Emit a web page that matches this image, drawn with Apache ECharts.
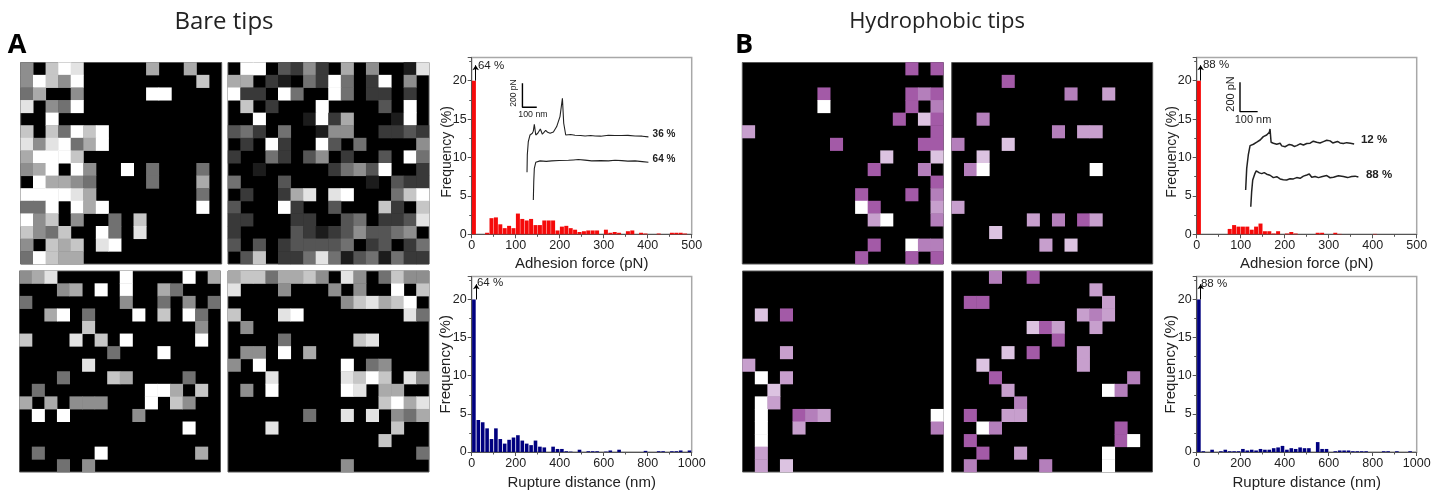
<!DOCTYPE html>
<html lang="en">
<head>
	<meta charset="UTF-8">
	<title>Bare tips / Hydrophobic tips</title>
	<script src="https://cdn.jsdelivr.net/npm/echarts@6/dist/echarts.min.js"></script>
	<style>
		html,body{margin:0;padding:0;background:#fff;}
		#chart{width:1443px;height:491px;}
	</style>
</head>
<body>
	<div id="chart"></div>
<script>
	// gray maps, level 0 (black) .. 9 (white), 16 x 16
	var bareForceMap1 = [
		[5,0,7,9,8,0,0,0,0,0,6,0,0,6,0,0],
		[5,9,7,5,9,0,0,0,0,0,0,0,0,0,7,0],
		[4,6,0,0,5,0,0,0,0,0,9,9,0,0,0,0],
		[8,0,5,4,9,0,0,0,0,0,0,0,0,0,0,0],
		[0,0,9,0,0,0,0,0,0,0,0,0,0,0,0,0],
		[7,0,7,4,9,7,9,0,0,0,0,0,0,0,0,0],
		[8,5,8,9,4,6,9,0,0,0,0,0,0,0,0,0],
		[6,9,9,9,7,0,0,0,0,0,0,0,0,0,0,0],
		[5,6,9,0,9,5,0,0,9,0,4,0,0,0,4,0],
		[0,9,6,6,5,4,0,0,0,0,4,0,0,0,6,0],
		[9,9,9,9,8,6,0,0,0,0,0,0,0,0,4,0],
		[4,4,9,0,9,6,9,0,0,0,0,0,0,0,9,0],
		[9,5,7,0,5,0,0,4,0,7,0,0,0,0,0,0],
		[7,5,4,7,0,0,9,4,0,8,0,0,0,0,0,0],
		[5,0,7,6,7,0,8,9,0,0,0,0,0,0,0,0],
		[4,9,7,6,6,0,0,0,0,0,0,0,0,0,0,0]
	];
	var bareForceMap2 = [
		[0,9,9,0,3,2,5,2,0,6,0,5,0,0,1,8],
		[6,6,0,2,1,0,4,2,9,4,0,2,9,0,5,0],
		[9,2,2,0,9,4,0,0,9,4,0,2,2,0,2,0],
		[0,7,0,2,0,0,0,9,0,0,0,0,3,0,9,0],
		[0,0,9,0,0,0,1,9,2,6,0,0,0,1,9,0],
		[3,4,2,0,4,0,0,1,5,5,0,0,2,2,3,2],
		[0,2,0,9,2,0,0,9,3,0,4,0,0,0,0,5],
		[2,0,0,4,2,0,3,5,0,2,0,0,3,0,9,4],
		[0,0,1,0,0,0,0,0,2,4,5,3,9,0,0,2],
		[4,0,0,0,3,0,0,0,0,0,0,1,0,3,2,2],
		[0,2,0,0,2,6,8,0,8,9,0,0,0,4,7,9],
		[3,0,0,0,9,2,0,0,3,0,0,0,7,2,0,7],
		[2,2,0,0,0,2,2,0,0,3,4,0,2,2,3,8],
		[2,0,0,0,0,3,2,1,2,3,5,3,3,4,5,0],
		[3,0,3,0,2,3,3,3,3,4,0,2,3,0,2,4],
		[0,3,7,0,2,2,4,8,4,1,3,4,1,4,2,2]
	];
	var bareRuptureMap1 = [
		[5,6,8,0,0,0,0,0,9,0,0,0,0,9,0,6],
		[0,0,0,5,6,0,9,0,9,0,0,6,4,0,0,0],
		[4,0,0,0,0,0,0,0,5,0,0,4,0,5,0,4],
		[0,0,6,9,0,4,0,0,0,9,0,7,0,9,4,0],
		[0,0,0,0,0,7,0,0,0,0,0,0,0,0,5,0],
		[7,0,0,0,8,0,7,0,9,0,0,0,0,0,9,0],
		[0,0,0,0,0,0,0,4,0,0,0,9,0,0,0,0],
		[0,0,0,0,0,8,0,0,0,0,0,0,0,0,0,0],
		[0,0,0,4,0,0,0,7,6,0,0,0,0,4,0,0],
		[0,4,0,0,0,0,0,0,0,0,9,9,6,0,7,0],
		[6,0,6,0,5,5,5,0,0,0,9,0,7,5,0,0],
		[0,9,0,9,0,0,0,0,0,5,0,0,0,0,0,0],
		[0,0,0,0,0,0,0,0,0,0,0,0,0,9,0,0],
		[0,0,0,0,0,0,0,0,0,0,0,0,0,0,0,0],
		[0,4,0,0,0,0,9,0,0,0,0,0,0,0,6,0],
		[0,0,0,4,0,5,0,0,0,0,0,0,0,0,0,0]
	];
	var bareRuptureMap2 = [
		[6,7,7,4,6,6,7,5,0,8,5,0,4,7,5,5],
		[8,0,0,0,5,0,0,0,5,0,5,0,0,9,0,7],
		[0,0,0,0,0,0,0,0,0,5,7,8,6,7,9,0],
		[7,0,0,0,8,9,0,0,0,0,0,0,0,0,8,4],
		[0,5,0,0,0,0,0,0,0,0,0,0,0,0,0,0],
		[0,0,0,0,4,0,0,0,0,0,7,8,0,0,0,0],
		[0,5,5,0,9,0,6,0,0,0,0,0,0,0,0,0],
		[5,0,9,0,0,0,0,0,0,9,0,4,5,0,0,0],
		[0,0,0,8,0,0,0,0,0,8,7,9,7,0,8,5],
		[0,5,0,9,0,0,0,0,0,9,8,0,6,6,0,0],
		[0,0,0,0,0,0,0,0,0,0,0,0,7,9,6,8],
		[0,0,0,0,0,0,4,0,0,8,0,8,0,5,4,6],
		[0,0,0,8,0,0,0,0,0,0,0,0,0,7,0,0],
		[0,0,0,0,0,0,0,0,0,0,0,0,7,0,0,0],
		[0,0,0,0,0,0,0,0,0,0,0,0,0,0,0,4],
		[0,0,0,0,0,0,0,0,0,5,0,0,0,0,0,0]
	];

	// purple maps, only the lit cells as [col, row, level], level 1 (deep) .. 5 (white)
	var hydroForceCells1 = [[13,0,1],[15,0,1],[6,2,1],[13,2,1],[14,2,2],[15,2,1],[6,3,5],[13,3,1],[15,3,2],[12,4,1],[14,4,4],[15,4,1],[0,5,3],[15,5,1],[7,6,1],[14,6,1],[15,6,1],[11,7,4],[15,7,4],[10,8,1],[14,8,2],[15,9,1],[9,10,1],[13,10,1],[15,10,2],[9,11,5],[10,11,1],[15,11,3],[10,12,3],[11,12,5],[15,12,2],[10,14,1],[13,14,5],[14,14,2],[15,14,2],[9,15,1],[13,15,1],[15,15,1]];
	var hydroForceCells2 = [[4,1,1],[9,2,2],[12,2,3],[2,4,2],[8,5,2],[10,5,3],[11,5,3],[0,6,2],[4,6,4],[2,7,4],[1,8,2],[2,8,5],[11,8,5],[0,11,3],[6,12,3],[8,12,2],[10,12,1],[11,12,3],[3,13,4],[7,14,3],[9,14,4]];
	var hydroRuptureCells1 = [[1,3,4],[3,3,1],[3,6,3],[0,7,3],[1,8,5],[3,8,3],[2,9,4],[1,10,5],[2,10,3],[1,11,5],[4,11,1],[5,11,2],[6,11,3],[15,11,5],[1,12,5],[4,12,3],[15,12,2],[1,13,5],[1,14,3],[1,15,3],[3,15,4]];
	var hydroRuptureCells2 = [[3,0,2],[6,0,1],[11,1,3],[1,2,1],[2,2,1],[12,2,3],[10,3,3],[11,3,2],[12,3,3],[6,4,4],[7,4,1],[8,4,3],[11,4,3],[8,5,1],[4,6,4],[6,6,1],[10,6,3],[2,7,4],[10,7,3],[3,8,1],[14,8,2],[4,9,3],[12,9,5],[13,9,2],[5,10,2],[1,11,1],[4,11,3],[5,11,3],[2,12,5],[3,12,2],[13,12,1],[1,13,1],[13,13,1],[14,13,5],[2,14,1],[5,14,3],[12,14,5],[1,15,2],[7,15,2],[12,15,5]];

	// histograms, 50 bins, first bin is cut at 20 (real value in the label)
	var bareForceFreq = [20,0,0,0.2,2.1,2.2,1.3,0.8,1.1,0.8,2.7,2.0,1.8,2.0,1.2,1.2,1.8,1.8,1.8,0.5,1.0,1.1,0.8,0.6,0.3,0.4,0.5,0.5,0.5,0,0.6,0.2,0.3,0.2,0,0.4,0.5,0,0.2,0.1,0,0,0.1,0,0,0.2,0.2,0.2,0.1,0];
	var bareRuptureFreq = [20,4.2,3.9,3.1,1.7,3.1,1.7,1.1,1.6,1.9,2.2,1.5,1.1,0.9,1.5,0.7,0.6,0,0.7,0.4,0.4,0.1,0.05,0,0.3,0,0.1,0.1,0.1,0,0.05,0.2,0,0.3,0,0,0,0,0,0.15,0,0,0.1,0.1,0,0.1,0.1,0.2,0,0.2];
	var hydroForceFreq = [20,0,0,0,0,0,0,0.7,1.2,1.0,1.0,1.0,0.6,1.0,1.4,0.4,0.4,0.1,0.4,0,0.1,0.3,0.1,0,0,0,0,0.2,0.2,0,0,0.2,0.05,0,0,0,0,0,0,0,0.05,0,0,0,0,0,0,0,0,0];
	var hydroRuptureFreq = [20,0.1,0,0.3,0,0.1,0.3,0.1,0.1,0.1,0.4,0.2,0.3,0.2,0.4,0.3,0.3,0.5,0.6,0.8,0.3,0.5,0.4,0.6,0.5,0.5,0,1.3,0.4,0.4,0,0.1,0.2,0.2,0.2,0.1,0.1,0.1,0.1,0,0,0,0.1,0.1,0,0.1,0,0,0.1,0];

	// inset force curves, [nm, pN] with an arbitrary origin
	var bareCurve36 = [[386,517],[388,662],[395,773],[407,828],[423,842],[430,860],[437,917],[447,828],[461,842],[479,878],[493,834],[516,867],[530,850],[547,842],[570,853],[593,898],[616,981],[633,1134],[642,926],[656,828],[690,832],[721,826],[760,824],[791,820],[830,824],[861,820],[900,818],[954,826],[1000,824],[1047,823],[1090,825],[1140,820],[1190,818],[1233,812]];
	var bareCurve64 = [[430,286],[433,439],[437,550],[447,600],[477,612],[520,608],[558,612],[610,615],[675,617],[710,620],[744,623],[790,618],[837,612],[900,614],[954,612],[1000,617],[1047,614],[1090,610],[1140,612],[1190,606],[1233,600]];
	var hydroCurve12 = [[277,302],[283,449],[292,540],[302,604],[311,598],[321,613],[330,610],[340,627],[350,622],[359,642],[368,636],[377,665],[386,655],[396,676],[404,670],[411,695],[415,717],[421,627],[428,640],[434,620],[444,628],[453,613],[462,624],[472,620],[481,602],[491,608],[500,596],[509,604],[524,612],[538,608],[552,598],[566,604],[585,616],[604,608],[623,618],[642,620],[660,634],[679,627],[698,622],[717,631],[736,640],[755,636],[770,622],[783,627],[797,632],[811,622],[830,618],[849,624],[870,620],[891,615]];
	var hydroCurve88 = [[306,188],[311,291],[317,370],[330,415],[337,432],[343,427],[355,418],[368,413],[382,420],[396,409],[415,402],[434,386],[453,392],[472,377],[490,372],[509,370],[528,378],[547,377],[566,386],[585,381],[604,396],[623,404],[637,410],[651,388],[670,394],[689,386],[712,394],[736,400],[755,385],[774,388],[802,398],[830,393],[854,386],[877,393],[896,396],[915,390]];
	var bareScaleBar = [[354,1259],[354,1059],[454,1059]];
	var hydroScaleBar = [[245,1035],[245,835],[345,835]];

	var graySteps = ['#000000','#ffffff'];
	var purpleSteps = ['#a35aa7','#b47fbb','#c79fcd','#dcc3e1','#ffffff'];
	var labelFont = '"Liberation Sans", Arial, sans-serif';
	var textColor = '#222';

	var grids = [], xAxes = [], yAxes = [], series = [], visualMaps = [];

	function rowsToCells(rows) {
		var cells = [];
		for (var r = 0; r < rows.length; r++) {
			for (var c = 0; c < rows[r].length; c++) {
				if (rows[r][c] > 0) cells.push([c, r, rows[r][c]]);
			}
		}
		return cells;
	}

	function addMap(cells, box, steps, maxLevel) {
		var idx = grids.length;
		var cats = [];
		for (var i = 0; i < 16; i++) cats.push(i);
		grids.push({left: box[0], top: box[1], width: box[2], height: box[3], show: true, backgroundColor: '#000', borderColor: '#555', borderWidth: 1});
		xAxes.push({type: 'category', gridIndex: idx, data: cats, show: false});
		yAxes.push({type: 'category', gridIndex: idx, data: cats, inverse: true, show: false});
		series.push({type: 'heatmap', xAxisIndex: idx, yAxisIndex: idx, data: cells, silent: true, animation: false});
		visualMaps.push({show: false, type: 'continuous', seriesIndex: series.length - 1, dimension: 2,
			min: steps === graySteps ? 0 : 1, max: maxLevel, inRange: {color: steps}});
	}

	function addHist(freq, left, top, xMax, xTick, xName, color, arrowX, opt) {
		var idx = grids.length;
		var binWidth = xMax / freq.length;
		var points = freq.map(function (v, i) { return [(i + 0.5) * binWidth, v]; });
		grids.push({left: left, top: top, width: 220, height: 176.7, show: true, borderColor: '#a8a8a8', borderWidth: 1.5});
		xAxes.push({
			type: 'value', gridIndex: idx, min: 0, max: xMax, interval: xTick,
			name: xName, nameLocation: 'middle', nameGap: opt.xGap,
			nameTextStyle: {fontFamily: labelFont, fontSize: 15, color: textColor},
			splitLine: {show: false},
			axisLine: {lineStyle: {color: '#555', width: 1}},
			axisTick: {length: 4, lineStyle: {color: '#555'}},
			minorTick: {show: true, splitNumber: 2, length: 2.5, lineStyle: {color: '#555'}},
			axisLabel: {fontFamily: labelFont, fontSize: 12.5, color: textColor, margin: 5, hideOverlap: false,
				formatter: function (v) { return String(v); }}
		});
		yAxes.push({
			type: 'value', gridIndex: idx, min: 0, max: 23, interval: 5,
			name: 'Frequency (%)', nameLocation: 'middle', nameGap: 18, nameMoveOverlap: false,
			nameTextStyle: {fontFamily: labelFont, fontSize: opt.yNameSize, color: textColor, padding: opt.yNamePad},
			splitLine: {show: false},
			axisLine: {show: true, lineStyle: {color: '#555', width: 1}},
			axisTick: {show: true, length: 4, lineStyle: {color: '#555'}},
			minorTick: {show: true, splitNumber: 2, length: 2.5, lineStyle: {color: '#555'}},
			axisLabel: {fontFamily: labelFont, fontSize: 12.5, color: textColor, margin: 5, showMaxLabel: false}
		});
		series.push({
			type: 'bar', xAxisIndex: idx, yAxisIndex: idx, data: points, barWidth: opt.barWidth, itemStyle: {color: color},
			silent: true, animation: false,
			markLine: {
				silent: true, animation: false, symbol: ['none', 'arrow'], symbolSize: 5,
				label: {show: false}, lineStyle: {color: '#000', width: 1, type: 'solid'},
				data: [[{coord: [arrowX, 20]}, {coord: [arrowX, 22]}]]
			}
		});
	}

	// inset curves go on their own hidden axes, nm and pN, laid over the histogram
	function addInset(left, top, xExtent, yExtent, curves, scaleBar, width) {
		var idx = grids.length;
		grids.push({left: left, top: top, width: 220, height: 176.7});
		xAxes.push({type: 'value', gridIndex: idx, min: 0, max: xExtent, show: false});
		yAxes.push({type: 'value', gridIndex: idx, min: 0, max: yExtent, show: false});
		curves.forEach(function (curve) {
			series.push({type: 'line', xAxisIndex: idx, yAxisIndex: idx, data: curve, showSymbol: false, silent: true, animation: false,
				lineStyle: {color: '#222', width: width}});
		});
		series.push({type: 'line', xAxisIndex: idx, yAxisIndex: idx, data: scaleBar, showSymbol: false, silent: true, animation: false,
			lineStyle: {color: '#000', width: 1.4}});
	}

	function txt(x, y, s, size, opt) {
		opt = opt || {};
		return {type: 'text', x: x, y: y, rotation: opt.rot || 0, silent: true, z: 50, style: {
			text: s, fill: opt.fill || textColor, align: 'center', verticalAlign: 'middle',
			font: (opt.bold ? 'bold ' : '') + size + 'px ' + (opt.font || labelFont)
		}};
	}

	addMap(rowsToCells(bareForceMap1), [20.7, 62.5, 201, 201.5], graySteps, 9);
	addMap(rowsToCells(bareForceMap2), [228, 62.5, 201, 201.5], graySteps, 9);
	addMap(rowsToCells(bareRuptureMap1), [19.5, 271, 201, 201], graySteps, 9);
	addMap(rowsToCells(bareRuptureMap2), [228, 271, 201, 201], graySteps, 9);
	addMap(hydroForceCells1, [742.3, 62.5, 201, 201.5], purpleSteps, 5);
	addMap(hydroForceCells2, [951.7, 62.5, 201, 201.5], purpleSteps, 5);
	addMap(hydroRuptureCells1, [742.5, 271, 201, 201], purpleSteps, 5);
	addMap(hydroRuptureCells2, [951.5, 271, 201, 201], purpleSteps, 5);

	var upperOpt = {xGap: 22, yNameSize: 14, yNamePad: [0, 12, 0, 0], barWidth: 4};
	var lowerOpt = {xGap: 23, yNameSize: 15, yNamePad: 0, barWidth: 3.6};
	addHist(bareForceFreq, 471.7, 57.6, 500, 100, 'Adhesion force (pN)', '#f50a0a', 9, upperOpt);
	addHist(bareRuptureFreq, 471.7, 276.6, 1000, 200, 'Rupture distance (nm)', '#00007f', 21, lowerOpt);
	addHist(hydroForceFreq, 1196.7, 57.6, 500, 100, 'Adhesion force (pN)', '#f50a0a', 9, upperOpt);
	addHist(hydroRuptureFreq, 1196.7, 276.6, 1000, 200, 'Rupture distance (nm)', '#00007f', 18, lowerOpt);

	addInset(471.7, 57.6, 1535, 1473, [bareCurve36, bareCurve64], bareScaleBar, 1.1);
	addInset(1196.7, 57.6, 1245, 1203, [hydroCurve12, hydroCurve88], hydroScaleBar, 1.5);

	var titleFont = '"Open Sans", "Noto Sans", sans-serif';
	var texts = [
		txt(224, 22, 'Bare tips', 24, {font: titleFont}),
		txt(937, 22, 'Hydrophobic tips', 22, {font: titleFont}),
		txt(17, 45, 'A', 27, {bold: true, font: titleFont, fill: '#000'}),
		txt(744, 45, 'B', 27, {bold: true, font: titleFont, fill: '#000'}),
		txt(491, 66, '64 %', 11.5),
		txt(490, 283, '64 %', 11.5),
		txt(1216, 65, '88 %', 11.5),
		txt(1214, 284, '88 %', 11.5),
		txt(664, 134, '36 %', 10, {bold: true}),
		txt(664, 159, '64 %', 10, {bold: true}),
		txt(514, 93, '200 pN', 8.5, {rot: Math.PI / 2}),
		txt(533, 115, '100 nm', 8.8),
		txt(1374, 140, '12 %', 11.5, {bold: true}),
		txt(1379, 175, '88 %', 11.5, {bold: true}),
		txt(1231, 94, '200 pN', 11, {rot: Math.PI / 2}),
		txt(1253, 120, '100 nm', 11)
	];

	var myChart = echarts.init(document.getElementById('chart'), null, {renderer: 'canvas'});
	myChart.setOption({
		animation: false,
		backgroundColor: '#fff',
		grid: grids,
		xAxis: xAxes,
		yAxis: yAxes,
		visualMap: visualMaps,
		series: series,
		graphic: {elements: texts}
	});
</script>
</body>
</html>
